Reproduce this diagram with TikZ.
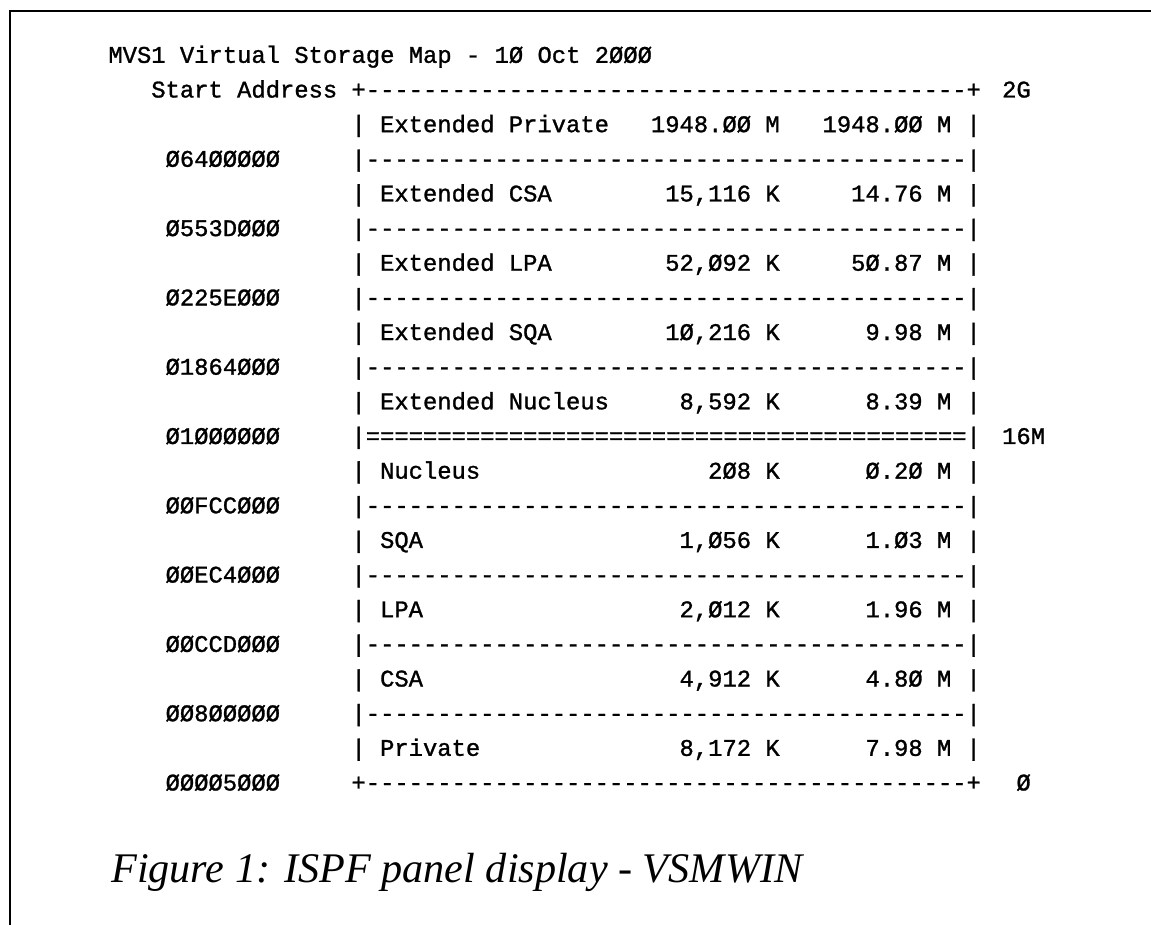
\documentclass[tikz,border=0pt]{standalone}
\usepackage{fontspec}
\setmainfont{Liberation Serif}
\setmonofont{Liberation Mono}[FakeBold=1.2]
\usetikzlibrary{positioning}

% panel text: one x unit is one character, one y unit is one line
\newcommand{\panelfont}{\ttfamily\fontsize{11.92pt}{14pt}\selectfont}
\tikzset{
  cell/.style={anchor=base west, inner sep=0pt, yshift=-3.75pt, font=\panelfont},
  rcell/.style={cell, anchor=base east},
  frame/.style={line width=0.6pt},
}

\begin{document}
\begin{tikzpicture}[x=7.15pt, y=-17.325pt]
    \useasboundingbox (-7.552,-2.597) rectangle (72.937,24.098);

    % page frame
    \coordinate (fbot) at (-6.853,24.098);
    \coordinate (fcorner) at (-6.853,-2.28);
    \coordinate (fright) at (72.937,-2.28);
    \draw[frame] (fbot) -- (fcorner) -- (fright);

    % heading
    \node[cell] (title) at (0,-1) {MVS1 Virtual Storage Map - 1Ø Oct 2ØØØ};
    \node[cell] (start) at (3,0) {Start Address};

    % top and bottom edges of the map
    \node[cell] (top) at (17,0) {+------------------------------------------+};
    \node[cell] (bottom) at (17,20) {+------------------------------------------+};
    \node[cell] (toplbl) at (62.5,0) {2G};
    \node[cell] (bottomlbl) at (63.5,20) {Ø};

    % areas: name, size in K, size in M
    \foreach \r/\area/\kb/\mb in {
        1/Extended Private/{1948.ØØ M}/{1948.ØØ M},
        3/Extended CSA/{15,116 K}/{14.76 M},
        5/Extended LPA/{52,Ø92 K}/{5Ø.87 M},
        7/Extended SQA/{1Ø,216 K}/{9.98 M},
        9/Extended Nucleus/{8,592 K}/{8.39 M},
        11/Nucleus/{2Ø8 K}/{Ø.2Ø M},
        13/SQA/{1,Ø56 K}/{1.Ø3 M},
        15/LPA/{2,Ø12 K}/{1.96 M},
        17/CSA/{4,912 K}/{4.8Ø M},
        19/Private/{8,172 K}/{7.98 M}}{
        \node[cell] (lbar\r) at (17,\r) {|};
        \node[cell] (area\r) at (19,\r) {\area};
        \node[rcell] (kb\r) at (47,\r) {\kb};
        \node[rcell] (mb\r) at (59,\r) {\mb};
        \node[cell] (rbar\r) at (60,\r) {|};
    }

    % boundaries with their start addresses
    \foreach \r/\addr in {2/Ø64ØØØØØ, 4/Ø553DØØØ, 6/Ø225EØØØ, 8/Ø1864ØØØ,
                          12/ØØFCCØØØ, 14/ØØEC4ØØØ, 16/ØØCCDØØØ, 18/ØØ8ØØØØØ}{
        \node[cell] (addr\r) at (4,\r) {\addr};
        \node[cell] (sep\r) at (17,\r) {|------------------------------------------|};
    }
    % the 16M line
    \node[cell] (addr10) at (4,10) {Ø1ØØØØØØ};
    \node[cell] (sep10) at (17,10) {|==========================================|};
    \node[cell] (linelbl) at (62.5,10) {16M};
    \node[cell] (addr20) at (4,20) {ØØØØ5ØØØ};

    % caption
    \node[anchor=base west, inner sep=0pt, font=\fontsize{21.1pt}{25pt}\selectfont\itshape]
        (caption) at (0.2,22.86) {Figure 1: ISPF panel display - VSMWIN};
\end{tikzpicture}
\end{document}
